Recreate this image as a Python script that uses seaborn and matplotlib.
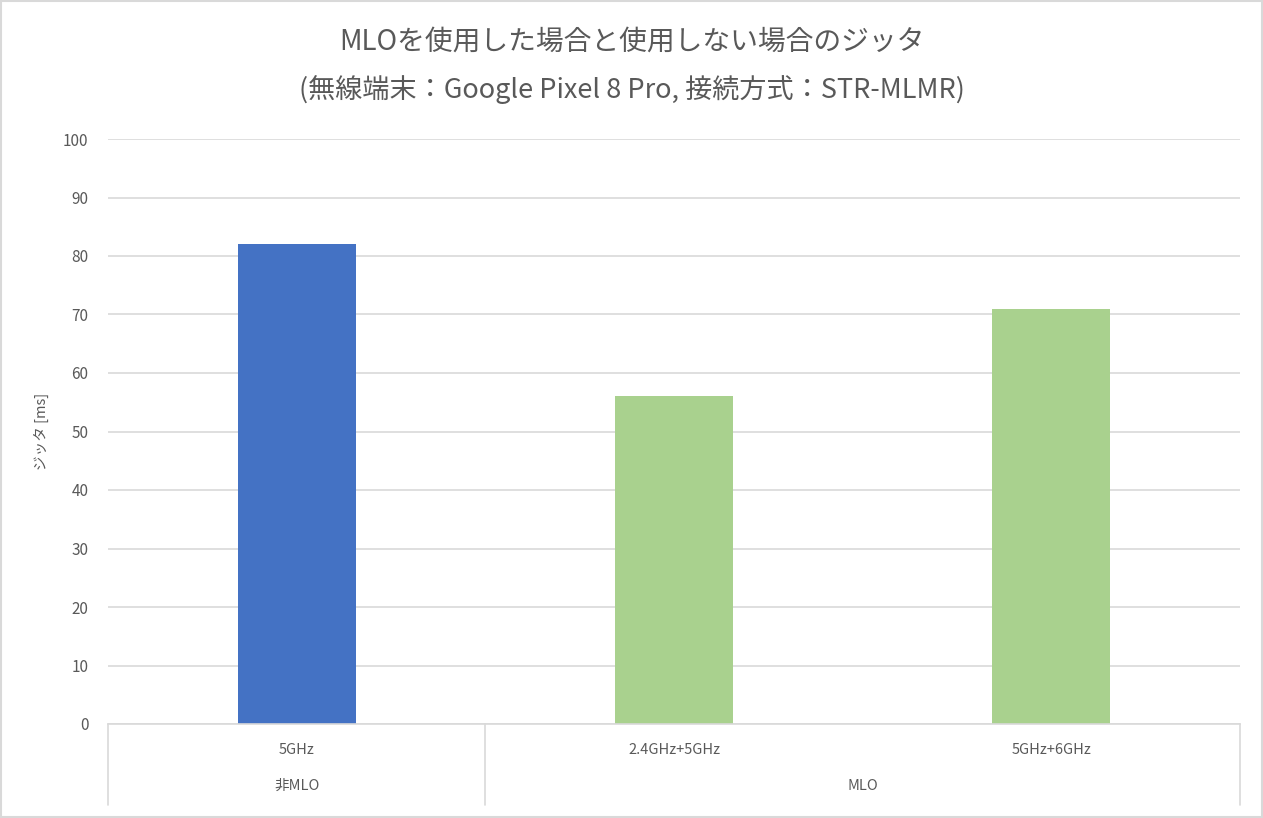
import matplotlib
matplotlib.use("Agg")
import matplotlib.pyplot as plt
import matplotlib.transforms as mtransforms
import seaborn as sns

# chart data
bands = ["5GHz", "2.4GHz+5GHz", "5GHz+6GHz"]
jitter_ms = [82, 56, 71]
bar_colors = ["#4472C4", "#A9D18E", "#A9D18E"]
groups = ["非MLO", "MLO"]
group_sizes = [1, 2]
y_ticks = list(range(0, 101, 10))

title_1 = "MLOを使用した場合と使用しない場合のジッタ"
title_2 = "(無線端末：Google Pixel 8 Pro, 接続方式：STR-MLMR)"
y_label = "ジッタ [ms]"

sns.set_theme(style="white")
plt.rcParams["font.family"] = ["Noto Sans CJK JP", "DejaVu Sans"]

text_col = "#595959"
grid_col = "#D9D9D9"

fig = plt.figure(figsize=(12.63, 8.18), dpi=100)
ax = fig.add_axes([108 / 1263, 1 - 724 / 818, (1240 - 108) / 1263, (724 - 139) / 818])

sns.barplot(x=bands, y=jitter_ms, hue=bands, palette=bar_colors,
            width=0.313, legend=False, saturation=1, linewidth=0, ax=ax)

ax.set_ylim(0, 100)
ax.set_xlim(-0.5, len(bands) - 0.5)
ax.set_yticks(y_ticks)
ax.yaxis.grid(True, color=grid_col, linewidth=1.2)
ax.set_axisbelow(True)
for s in ["top", "right", "left"]:
    ax.spines[s].set_visible(False)
ax.spines["bottom"].set_color(grid_col)
ax.spines["bottom"].set_linewidth(1.2)

ax.tick_params(axis="y", length=0, pad=14, labelsize=11, labelcolor=text_col)
ax.tick_params(axis="x", length=0, pad=14, labelsize=10.5, labelcolor=text_col)
ax.set_ylabel(y_label, fontsize=10.5, color=text_col, labelpad=10)
ax.set_xlabel("")

# category axis: separators and group labels
trans = mtransforms.blended_transform_factory(ax.transData, ax.transAxes)
bottom_frac = -(805 - 724) / (724 - 139)
edges = [-0.5]
pos = -0.5
for n in group_sizes:
    pos += n
    edges.append(pos)
for e in edges:
    ax.plot([e, e], [0, bottom_frac], transform=trans, color=grid_col,
            linewidth=1.2, clip_on=False)
start = -0.5
for g, n in zip(groups, group_sizes):
    ax.text(start + n / 2, -(786 - 724) / (724 - 139), g, transform=trans,
            ha="center", va="center", fontsize=10.5, color=text_col)
    start += n

fig.text(0.5, 1 - 42 / 818, title_1, ha="center", va="center",
         fontsize=20, color=text_col)
fig.text(0.5, 1 - 90 / 818, title_2, ha="center", va="center",
         fontsize=19.5, color=text_col)

# outer chart border
fig.patches.append(plt.Rectangle((0.001, 0.001), 0.998, 0.998, transform=fig.transFigure,
                                 fill=False, edgecolor=grid_col, linewidth=1.5))

fig.savefig("out.png", dpi=100, facecolor="white")
